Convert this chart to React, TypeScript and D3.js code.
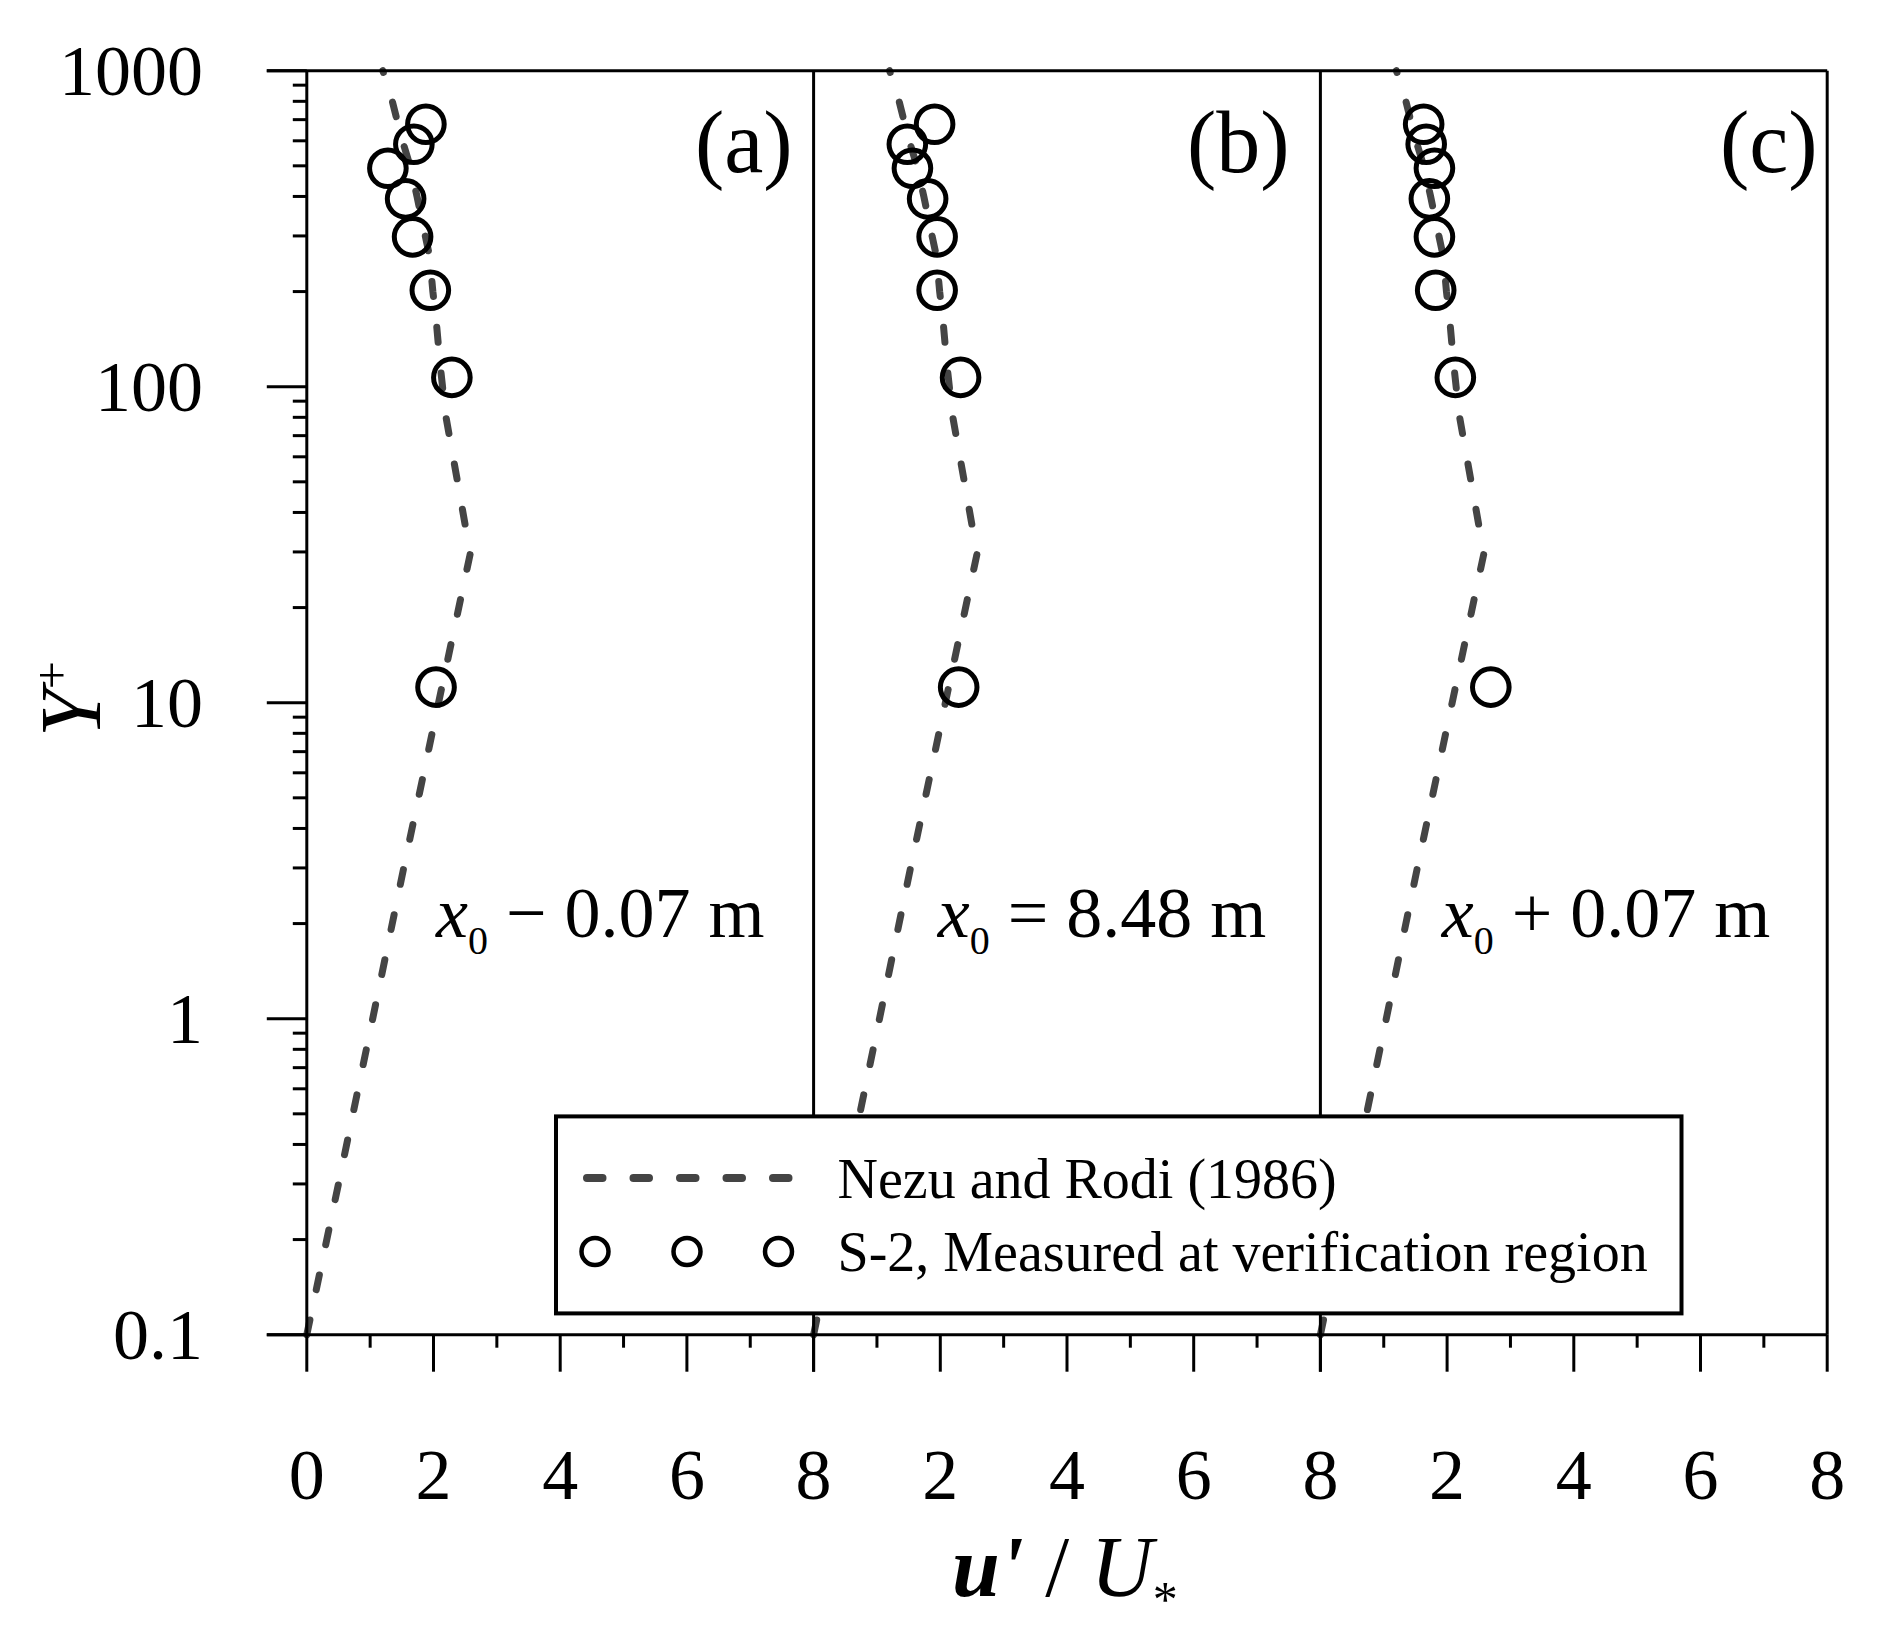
import React from 'react';
import * as d3 from 'd3';

// wall-normal positions (Y+) of the measured points, shared by the three panels
const yPlus = [11.2, 107, 202, 298, 393, 491, 585, 677];
// u'/U* measured at x0 - 0.07 m, x0 = 8.48 m, x0 + 0.07 m
const uPanelA = [2.04, 2.29, 1.95, 1.67, 1.56, 1.28, 1.69, 1.88];
const uPanelB = [2.29, 2.32, 1.95, 1.95, 1.80, 1.56, 1.48, 1.91];
const uPanelC = [2.69, 2.13, 1.82, 1.80, 1.72, 1.80, 1.67, 1.63];

// Nezu and Rodi (1986) curve
const nrYPlus = [0.1, 0.3, 1, 3, 10, 29.6, 50, 81.6, 120, 160, 200, 258, 320, 400, 500, 618, 800, 1000];
const nrU = [0, 0.50, 1.04, 1.53, 2.08, 2.58, 2.38, 2.19, 2.10, 2.045, 1.99, 1.94, 1.84, 1.74, 1.63, 1.49, 1.35, 1.20];

const panelLabels = ['(a)', '(b)', '(c)'];
const panelOps = ['\u2212', '=', '+'];
const panelDist = ['0.07', '8.48', '0.07'];

const yTickLabels = ['0.1', '1', '10', '100', '1000'];
const xTickLabels = ['0', '2', '4', '6', '8'];

const W = 1886;
const H = 1646;
const left = 306.8;
const panelW = 506.8;
const top = 70.7;
const bottom = 1334.7;
const serif = '"Liberation Serif", "Times New Roman", serif';
const curveColor = '#444444';

const App: React.FC = () => {
	const yScale = d3.scaleLog().domain([0.1, 1000]).range([bottom, top]);
	const panels = [uPanelA, uPanelB, uPanelC];
	const xScales = panels.map((_, i) =>
		d3.scaleLinear().domain([0, 8]).range([left + i * panelW, left + (i + 1) * panelW]));
	const right = left + 3 * panelW;

	const curve = (xs: d3.ScaleLinear<number, number>) => d3.line<number>()
		.x((_, i) => xs(nrU[i]))
		.y(d => yScale(d))(nrYPlus) || '';

	const yTicks = yScale.ticks();
	const isMajor = (v: number) => Math.abs(Math.log10(v) - Math.round(Math.log10(v))) < 1e-6;

	const labelStarts = [695, 1187, 1720];
	const annStarts = [436, 937.7, 1441.7];

	return (
		<svg width={W} height={H} style={{ position: 'absolute', left: 0, top: 0, background: '#fff' }}
			fontFamily={serif}>
			{/* curves */}
			{xScales.map((xs, i) => (
				<path key={'c' + i} d={curve(xs)} fill="none" stroke={curveColor} strokeWidth={7}
					strokeDasharray="15 31" strokeLinecap="round" />
			))}
			{/* measured points */}
			{panels.map((us, i) => us.map((u, j) => (
				<circle key={`p${i}-${j}`} cx={xScales[i](u)} cy={yScale(yPlus[j])} r={18.3}
					fill="none" stroke="#000" strokeWidth={5} />
			)))}

			{/* frame */}
			<line x1={left - 40} x2={right} y1={top} y2={top} stroke="#000" strokeWidth={3} />
			<line x1={left - 40} x2={right} y1={bottom} y2={bottom} stroke="#000" strokeWidth={3} />
			<line x1={left} x2={left} y1={top} y2={bottom} stroke="#000" strokeWidth={3} />
			{xScales.map((xs, i) => (
				<line key={'s' + i} x1={xs(8)} x2={xs(8)} y1={top} y2={bottom} stroke="#000" strokeWidth={3} />
			))}

			{/* y ticks */}
			{yTicks.map((v, i) => (
				<line key={'yt' + i} x1={left} x2={left - (isMajor(v) ? 40 : 14)} y1={yScale(v)} y2={yScale(v)}
					stroke="#000" strokeWidth={3} />
			))}
			{yTickLabels.map(t => (
				<text key={'yl' + t} x={203} y={yScale(+t) + 24} textAnchor="end" fontSize={72}>{t}</text>
			))}

			{/* x ticks */}
			{xScales.map((xs, i) => d3.range(0, 9).map(v => (
				<line key={`xt${i}-${v}`} x1={xs(v)} x2={xs(v)} y1={bottom} y2={bottom + (v % 2 === 0 ? 37 : 13)}
					stroke="#000" strokeWidth={3} />
			)))}
			{xScales.map((xs, i) => xTickLabels.filter(t => i === 0 || t !== '0').map(t => (
				<text key={`xl${i}-${t}`} x={xs(+t)} y={1499} textAnchor="middle" fontSize={72}>{t}</text>
			)))}

			{/* panel labels and positions */}
			{panelLabels.map((t, i) => (
				<text key={'pl' + i} x={labelStarts[i]} y={172} fontSize={88}>{t}</text>
			))}
			{panelOps.map((op, i) => (
				<text key={'an' + i} x={annStarts[i]} y={937} fontSize={72}>
					<tspan fontStyle="italic">x</tspan>
					<tspan fontSize={40} dy={17}>0</tspan>
					<tspan dy={-17}>{` ${op} ${panelDist[i]} m`}</tspan>
				</text>
			))}

			{/* axis titles */}
			<text transform="translate(100,737) rotate(-90)" fontSize={86}>
				<tspan fontStyle="italic">Y</tspan>
				<tspan fontSize={50} dy={-31}>+</tspan>
			</text>
			<text x={952} y={1596} fontSize={86}>
				<tspan fontStyle="italic" fontWeight="bold">u'</tspan>
				<tspan>{' / '}</tspan>
				<tspan fontStyle="italic">U</tspan>
				<tspan fontSize={50} dy={20}>*</tspan>
			</text>

			{/* legend */}
			<rect x={556} y={1116.4} width={1125.5} height={197} fill="#fff" stroke="#000" strokeWidth={4} />
			<line x1={587} x2={792} y1={1178} y2={1178} stroke={curveColor} strokeWidth={8}
				strokeDasharray="15.5 31" strokeLinecap="round" />
			{[595, 687, 778.5].map(cx => (
				<circle key={'lc' + cx} cx={cx} cy={1251.5} r={13.5} fill="none" stroke="#000" strokeWidth={4.5} />
			))}
			<text x={837.5} y={1197.5} fontSize={56}>Nezu and Rodi (1986)</text>
			<text x={837.5} y={1271.3} fontSize={56}>S-2, Measured at verification region</text>
		</svg>
	);
};

export default App;
